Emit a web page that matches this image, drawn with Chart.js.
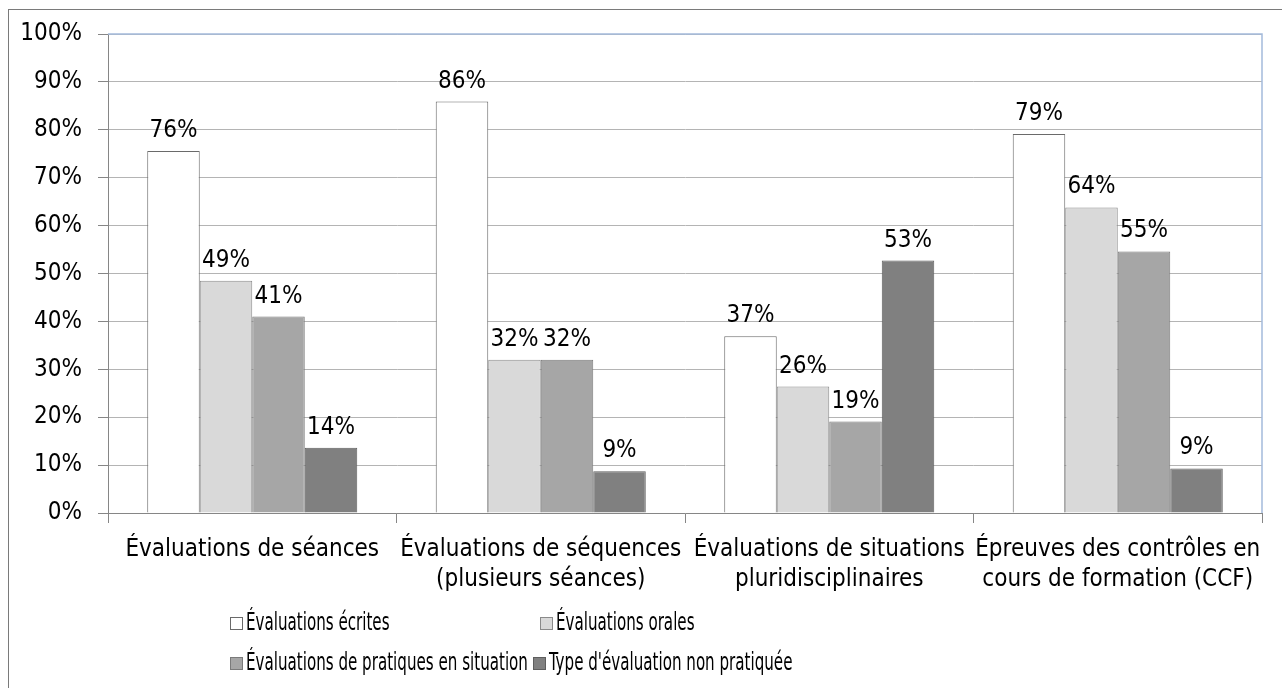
<!DOCTYPE html>
<html>
<head>
<meta charset="utf-8">
<script src="https://cdn.jsdelivr.net/npm/chart.js@4"></script>
<style>
  body { margin: 0; background: #fff; }
  .wrap { position: relative; width: 1282px; height: 688px; overflow: hidden; }
  .frame { position: absolute; left: 8px; top: 9px; width: 1400px; height: 800px; border: 1px solid #7a7a7a; }
  canvas { position: absolute; left: 0; top: 0; }
  .legend-item { position: absolute; height: 30px; white-space: nowrap; font-family: 'DejaVu Sans Condensed', 'DejaVu Sans', sans-serif; font-size: 24px; color: #000; }
  .legend-item .box { position: absolute; left: 0; top: 4px; width: 11px; height: 11px; border: 1px solid #6e6e6e; }
  .legend-item .txt { position: absolute; left: 16px; top: -5px; transform: scaleX(0.70); transform-origin: left center; }
</style>
</head>
<body>
<div class="wrap">
  <div class="frame"></div>
  <canvas id="chart" width="1282" height="688"></canvas>
  <div id="legend"></div>
</div>
<script>
const categories = [
  ["Évaluations de séances"],
  ["Évaluations de séquences", "(plusieurs séances)"],
  ["Évaluations de situations", "pluridisciplinaires"],
  ["Épreuves des contrôles en", "cours de formation (CCF)"]
];
const seriesNames = [
  "Évaluations écrites",
  "Évaluations orales",
  "Évaluations de pratiques en situation",
  "Type d'évaluation non pratiquée"
];
const ecrites = [75.6, 85.9, 36.9, 79.1];
const orales = [48.5, 32.0, 26.4, 63.8];
const pratiques = [41.0, 32.0, 19.1, 54.6];
const nonPratiquee = [13.6, 8.7, 52.7, 9.3];
const yTicks = [0, 10, 20, 30, 40, 50, 60, 70, 80, 90, 100];

const fills = ["#ffffff", "#d9d9d9", "#a6a6a6", "#808080"];
const edges = ["#6a6a6a", "#8a8a8a", "#7a7a7a", "#5e5e5e"];
const FONT = "'DejaVu Sans Condensed', 'DejaVu Sans', sans-serif";

const values = [ecrites, orales, pratiques, nonPratiquee];

// value labels above each bar
const barLabels = {
  id: 'barLabels',
  afterDatasetsDraw(chart) {
    const ctx = chart.ctx;
    ctx.save();
    ctx.font = "24px " + FONT;
    ctx.fillStyle = "#000";
    ctx.textAlign = "center";
    ctx.textBaseline = "alphabetic";
    chart.data.datasets.forEach((ds, i) => {
      chart.getDatasetMeta(i).data.forEach((bar, j) => {
        ctx.fillText(Math.round(ds.data[j]) + "%", bar.x, bar.y - 14);
      });
    });
    ctx.restore();
  }
};

// light blue border on top and right of plot area
const plotBorder = {
  id: 'plotBorder',
  afterDraw(chart) {
    const a = chart.chartArea, ctx = chart.ctx;
    ctx.save();
    ctx.strokeStyle = "#a4bbdc";
    ctx.lineWidth = 1.5;
    ctx.beginPath();
    ctx.moveTo(a.left, a.top);
    ctx.lineTo(a.right, a.top);
    ctx.lineTo(a.right, a.bottom);
    ctx.stroke();
    ctx.restore();
  }
};

new Chart(document.getElementById("chart"), {
  type: 'bar',
  data: {
    labels: categories,
    datasets: values.map((v, i) => ({
      label: seriesNames[i],
      data: v,
      backgroundColor: fills[i],
      borderColor: edges[i],
      borderWidth: 1,
      categoryPercentage: 0.728,
      barPercentage: 1
    }))
  },
  options: {
    responsive: false,
    animation: false,
    layout: { padding: { top: 34, right: 20, left: 0, bottom: 0 } },
    plugins: {
      legend: { display: false },
      tooltip: { enabled: false }
    },
    scales: {
      x: {
        afterFit: s => { s.height = 175; },
        grid: {
          display: true,
          drawOnChartArea: false,
          drawTicks: true,
          tickLength: 10,
          color: "#868686"
        },
        border: { color: "#868686" },
        ticks: {
          color: "#000",
          font: { family: FONT, size: 24, lineHeight: 1.25 },
          padding: 12,
          autoSkip: false,
          maxRotation: 0,
          minRotation: 0
        }
      },
      y: {
        min: 0,
        max: 100,
        afterFit: s => { s.width = 108; },
        afterBuildTicks: s => { s.ticks = yTicks.map(v => ({ value: v })); },
        grid: {
          color: "#b4b4b4",
          tickColor: "#868686",
          tickLength: 10
        },
        border: { color: "#868686" },
        ticks: {
          color: "#000",
          font: { family: FONT, size: 24 },
          padding: 16,
          callback: v => v + "%"
        }
      }
    }
  },
  plugins: [barLabels, plotBorder]
});

// two-column legend like the original
const legendPos = [[230, 617], [540, 617], [230, 657], [533, 657]];
const legend = document.getElementById("legend");
seriesNames.forEach((name, i) => {
  const item = document.createElement("div");
  item.className = "legend-item";
  item.style.left = legendPos[i][0] + "px";
  item.style.top = (legendPos[i][1] - 4) + "px";
  item.innerHTML = `<span class="box" style="background:${fills[i]};border-color:${edges[i]}"></span><span class="txt">${name}</span>`;
  legend.appendChild(item);
});
</script>
</body>
</html>
